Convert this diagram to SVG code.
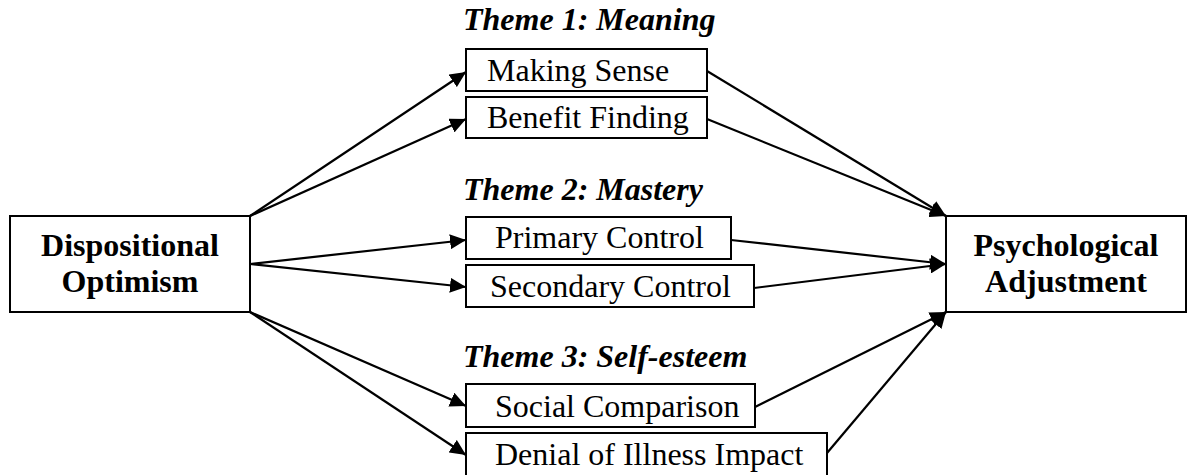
<svg xmlns="http://www.w3.org/2000/svg" width="1189" height="475" viewBox="0 0 1189 475">
  <style>
    .box { fill: #fff; stroke: #000; stroke-width: 2; }
    .lbl { font-family: "Liberation Serif", "Times New Roman", serif; font-size: 32px; fill: #000; }
    .main { font-family: "Liberation Serif", "Times New Roman", serif; font-size: 32px; font-weight: bold; fill: #000; }
    .theme { font-family: "Liberation Serif", "Times New Roman", serif; font-size: 32px; font-weight: bold; font-style: italic; fill: #000; }
    .edge { stroke: #000; stroke-width: 2.2; fill: none; marker-end: url(#arrow); }
  </style>
  <defs>
    <marker id="arrow" markerUnits="userSpaceOnUse" markerWidth="17" markerHeight="15" refX="16" refY="7.5" orient="auto">
      <path d="M0,0 L16,7.5 L0,15 z" fill="#000"/>
    </marker>
  </defs>
  <rect width="1189" height="475" fill="#fff"/>

  <!-- theme headings -->
  <text class="theme" x="463" y="30">Theme 1: Meaning</text>
  <text class="theme" x="463" y="200">Theme 2: Mastery</text>
  <text class="theme" x="463" y="367">Theme 3: Self-esteem</text>

  <g id="connectors">
    <line class="edge" x1="250" y1="216" x2="466" y2="72"/>
    <line class="edge" x1="250" y1="216" x2="466" y2="119"/>
    <line class="edge" x1="250" y1="264" x2="466" y2="240"/>
    <line class="edge" x1="250" y1="264" x2="466" y2="287"/>
    <line class="edge" x1="250" y1="312" x2="466" y2="406"/>
    <line class="edge" x1="250" y1="312" x2="466" y2="455"/>
    <line class="edge" x1="707" y1="71" x2="946" y2="216"/>
    <line class="edge" x1="707" y1="119" x2="946" y2="216"/>
    <line class="edge" x1="731" y1="240" x2="946" y2="264"/>
    <line class="edge" x1="754" y1="288" x2="946" y2="264"/>
    <line class="edge" x1="755" y1="407" x2="946" y2="312"/>
    <line class="edge" x1="827" y1="453" x2="946" y2="312"/>
  </g>

  <g id="optimism">
    <rect class="box" x="10" y="216" width="240" height="96"/>
    <text class="main" x="130" y="256" text-anchor="middle">Dispositional</text>
    <text class="main" x="130" y="292" text-anchor="middle">Optimism</text>
  </g>

  <g id="adjustment">
    <rect class="box" x="946" y="216" width="240" height="96"/>
    <text class="main" x="1066" y="256" text-anchor="middle">Psychological</text>
    <text class="main" x="1066" y="292" text-anchor="middle">Adjustment</text>
  </g>

  <g id="making-sense">
    <rect class="box" x="466" y="49" width="241" height="42"/>
    <text class="lbl" x="487" y="81">Making Sense</text>
  </g>

  <g id="benefit-finding">
    <rect class="box" x="466" y="97" width="241" height="41"/>
    <text class="lbl" x="487" y="128">Benefit Finding</text>
  </g>

  <g id="primary-control">
    <rect class="box" x="466" y="217" width="265" height="42"/>
    <text class="lbl" x="495" y="248">Primary Control</text>
  </g>

  <g id="secondary-control">
    <rect class="box" x="466" y="265" width="288" height="42"/>
    <text class="lbl" x="490" y="297">Secondary Control</text>
  </g>

  <g id="social-comparison">
    <rect class="box" x="466" y="384" width="289" height="43"/>
    <text class="lbl" x="495" y="417">Social Comparison</text>
  </g>

  <g id="denial">
    <rect class="box" x="466" y="433" width="361" height="44"/>
    <text class="lbl" x="495" y="465">Denial of Illness Impact</text>
  </g>
</svg>
